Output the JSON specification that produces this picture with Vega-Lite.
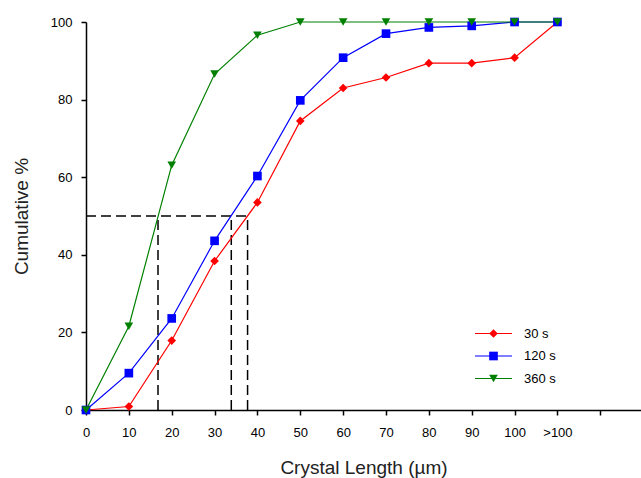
{
  "$schema": "https://vega.github.io/schema/vega-lite/v6.json",
  "autosize": {"type": "none"},
  "padding": {"left": 86, "top": 22, "right": 0, "bottom": 68},
  "width": 555,
  "height": 388,
  "background": "white",
  "config": {
    "view": {"stroke": null},
    "font": "Liberation Sans",
    "axis": {
      "domainColor": "black", "domainWidth": 1.5, "tickColor": "black", "tickWidth": 1.5, "tickSize": 5,
      "labelColor": "black", "labelFont": "Liberation Sans", "labelFontSize": 13,
      "titleColor": "#222222", "titleFont": "Liberation Sans", "titleFontSize": 19, "titleFontWeight": "normal",
      "grid": false
    }
  },
  "datasets": {
    "curves": [
      {"len": 0, "pct": 0, "series": "30 s"},
      {"len": 10, "pct": 0.9, "series": "30 s"},
      {"len": 20, "pct": 17.9, "series": "30 s"},
      {"len": 30, "pct": 38.4, "series": "30 s"},
      {"len": 40, "pct": 53.5, "series": "30 s"},
      {"len": 50, "pct": 74.5, "series": "30 s"},
      {"len": 60, "pct": 83.0, "series": "30 s"},
      {"len": 70, "pct": 85.7, "series": "30 s"},
      {"len": 80, "pct": 89.4, "series": "30 s"},
      {"len": 90, "pct": 89.4, "series": "30 s"},
      {"len": 100, "pct": 90.8, "series": "30 s"},
      {"len": 110, "pct": 100, "series": "30 s"},
      {"len": 0, "pct": 0, "series": "120 s"},
      {"len": 10, "pct": 9.5, "series": "120 s"},
      {"len": 20, "pct": 23.6, "series": "120 s"},
      {"len": 30, "pct": 43.6, "series": "120 s"},
      {"len": 40, "pct": 60.3, "series": "120 s"},
      {"len": 50, "pct": 79.8, "series": "120 s"},
      {"len": 60, "pct": 90.8, "series": "120 s"},
      {"len": 70, "pct": 97.0, "series": "120 s"},
      {"len": 80, "pct": 98.6, "series": "120 s"},
      {"len": 90, "pct": 99.0, "series": "120 s"},
      {"len": 100, "pct": 100, "series": "120 s"},
      {"len": 110, "pct": 100, "series": "120 s"},
      {"len": 0, "pct": 0, "series": "360 s"},
      {"len": 10, "pct": 21.6, "series": "360 s"},
      {"len": 20, "pct": 63.1, "series": "360 s"},
      {"len": 30, "pct": 86.6, "series": "360 s"},
      {"len": 40, "pct": 96.6, "series": "360 s"},
      {"len": 50, "pct": 100, "series": "360 s"},
      {"len": 60, "pct": 100, "series": "360 s"},
      {"len": 70, "pct": 100, "series": "360 s"},
      {"len": 80, "pct": 100, "series": "360 s"},
      {"len": 90, "pct": 100, "series": "360 s"},
      {"len": 100, "pct": 100, "series": "360 s"},
      {"len": 110, "pct": 100, "series": "360 s"}
    ],
    "guides": [
      {"x": 0, "y": 50, "x2": 37.7, "y2": 50},
      {"x": 16.8, "y": 0, "x2": 16.8, "y2": 50},
      {"x": 33.9, "y": 0, "x2": 33.9, "y2": 50},
      {"x": 37.7, "y": 0, "x2": 37.7, "y2": 50}
    ]
  },
  "layer": [
    {
      "data": {"name": "guides"},
      "mark": {"type": "rule", "color": "black", "strokeWidth": 1.5, "strokeDash": [10, 5]},
      "encoding": {
        "x": {"field": "x", "type": "quantitative", "scale": {"domain": [0, 129.5], "nice": false, "zero": false},
          "axis": {"values": [0, 10, 20, 30, 40, 50, 60, 70, 80, 90, 100, 110, 120],
            "labelExpr": "datum.value == 110 ? '>100' : datum.value == 120 ? '' : datum.value",
            "title": "Crystal Length (µm)", "titlePadding": 19, "labelPadding": 11, "labelFlush": false}},
        "y": {"field": "y", "type": "quantitative", "scale": {"domain": [0, 100], "nice": false},
          "axis": {"values": [0, 20, 40, 60, 80, 100], "title": "Cumulative %", "titlePadding": 19, "labelPadding": 9}},
        "x2": {"field": "x2"},
        "y2": {"field": "y2"}
      }
    },
    {
      "data": {"name": "curves"},
      "mark": {"type": "line", "strokeWidth": 1.2},
      "encoding": {
        "x": {"field": "len", "type": "quantitative"},
        "y": {"field": "pct", "type": "quantitative"},
        "stroke": {"field": "series", "type": "nominal", "sort": ["30 s", "120 s", "360 s"],
          "scale": {"range": ["#ff0000", "#0000ff", "#008000"]},
          "legend": {
            "title": null, "orient": "none", "legendX": 401, "legendY": 305,
            "padding": 0, "rowPadding": 8.5, "symbolType": "M-4.27,0L4.27,0", "symbolSize": 75, "symbolStrokeWidth": 1.2,
            "labelOffset": 24, "labelFont": "Liberation Sans", "labelFontSize": 13, "labelColor": "black"
          }},
        "detail": {"field": "series"}
      }
    },
    {
      "data": {"name": "curves"},
      "mark": {"type": "point", "filled": true, "opacity": 1, "size": 75},
      "encoding": {
        "x": {"field": "len", "type": "quantitative"},
        "y": {"field": "pct", "type": "quantitative"},
        "color": {"field": "series", "type": "nominal",
          "scale": {"domain": ["30 s", "120 s", "360 s"], "range": ["#ff0000", "#0000ff", "#008000"]},
          "legend": {
            "title": null, "orient": "none", "legendX": 401, "legendY": 305,
            "padding": 0, "rowPadding": 8.5, "symbolSize": 75, "labelOpacity": 0,
            "labelOffset": 24, "labelFontSize": 13
          }},
        "shape": {"field": "series", "type": "nominal",
          "scale": {"domain": ["30 s", "120 s", "360 s"], "range": ["diamond", "square", "triangle-down"]}}
      }
    }
  ]
}
